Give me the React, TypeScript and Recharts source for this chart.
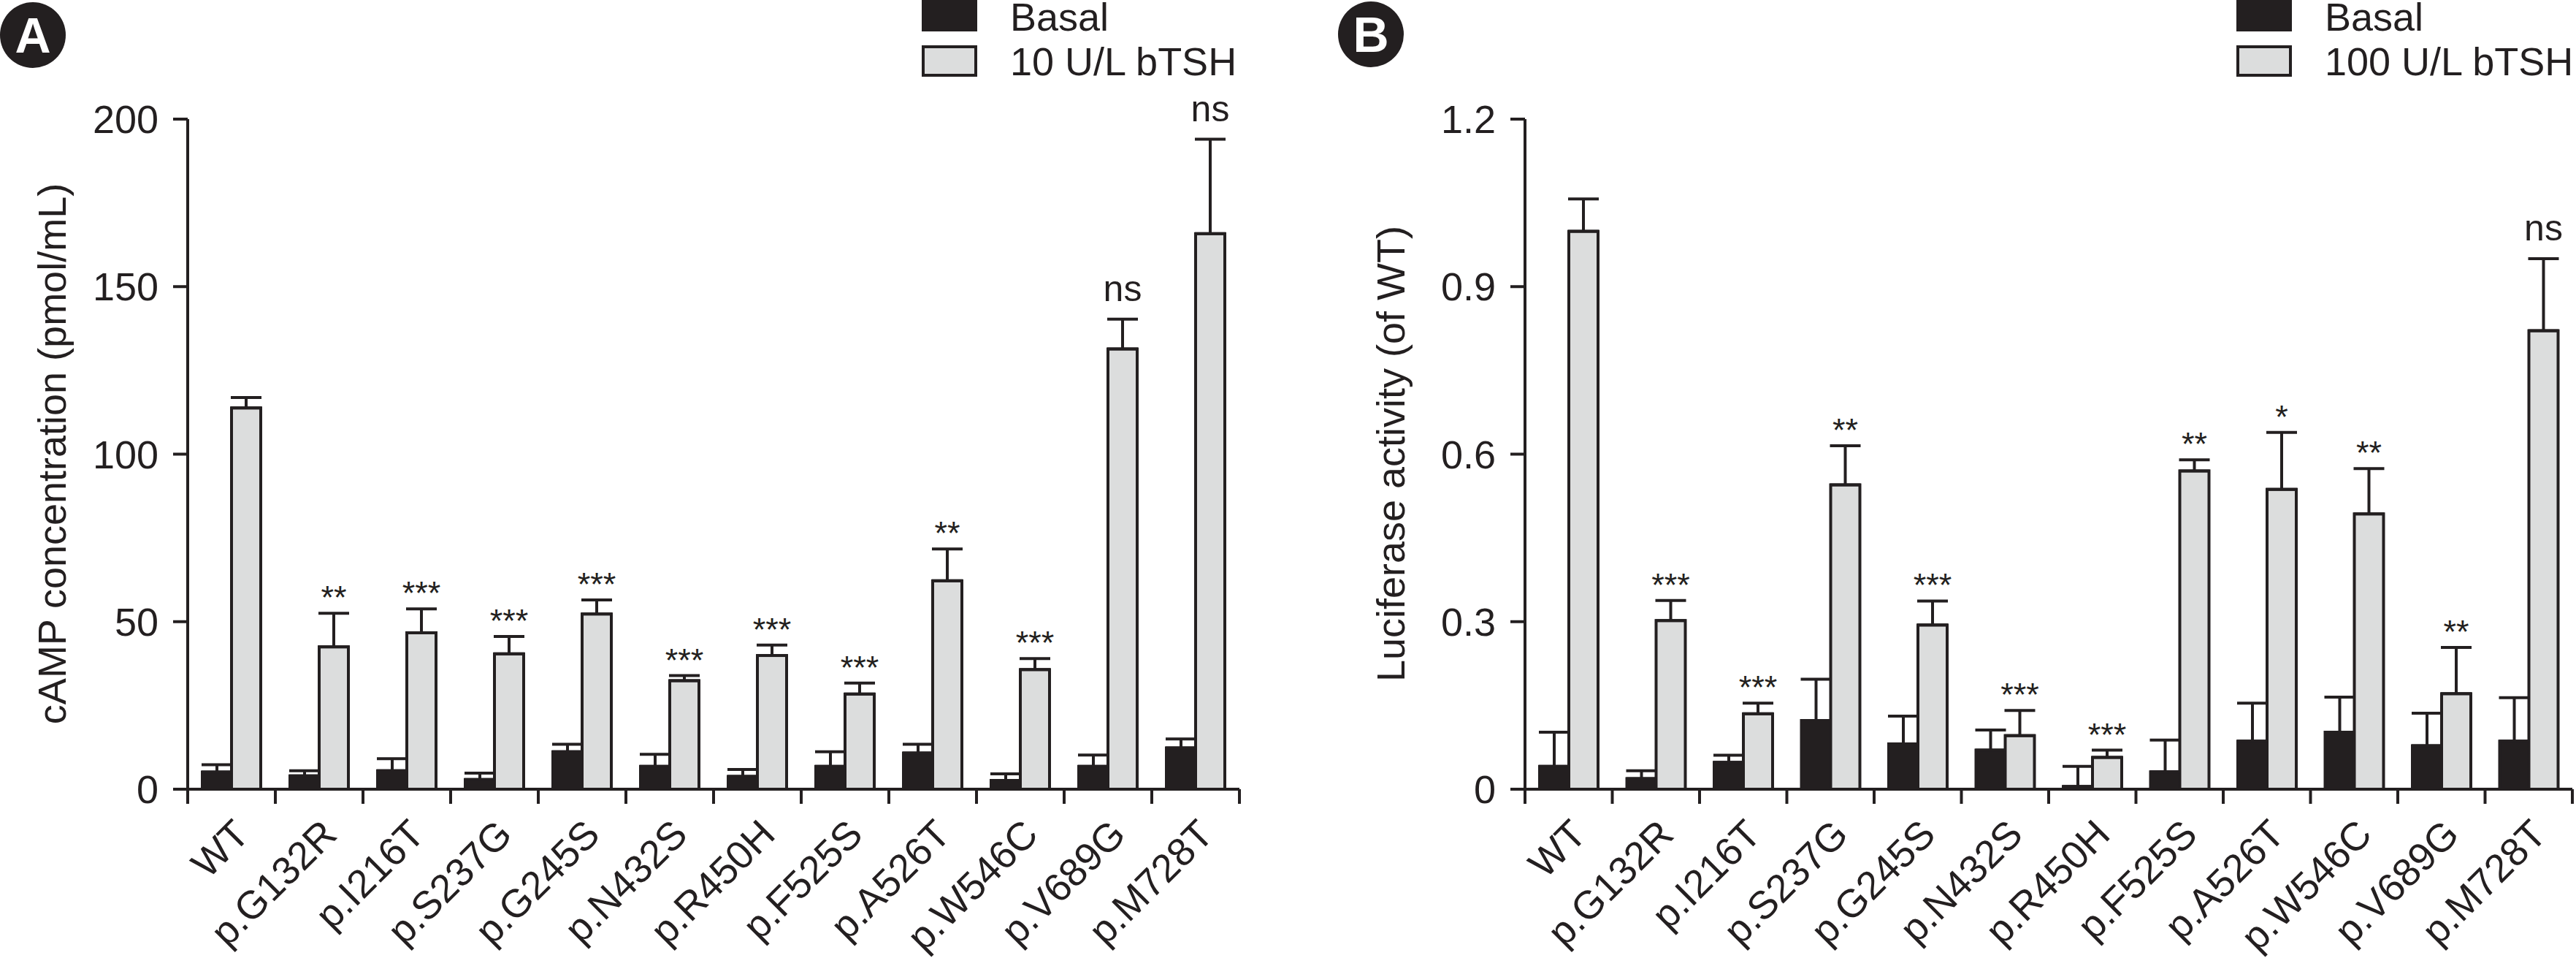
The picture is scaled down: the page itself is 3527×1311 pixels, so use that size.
import React from "react";
import { BarChart, Bar, XAxis, YAxis, ErrorBar } from "recharts";

// variants on the x axis (same for both panels)
const variants = [
  "WT", "p.G132R", "p.I216T", "p.S237G", "p.G245S", "p.N432S",
  "p.R450H", "p.F525S", "p.A526T", "p.W546C", "p.V689G", "p.M728T",
];

// panel A: cAMP (pmol/mL)
const campBasal = [5.1, 4.0, 5.5, 2.9, 11.2, 6.8, 3.8, 6.8, 10.8, 2.6, 6.8, 12.3];
const campBasalErr = [2.2, 1.5, 3.6, 1.9, 2.2, 3.6, 2.1, 4.4, 2.6, 2.0, 3.4, 2.7];
const campTsh = [113.8, 42.5, 46.7, 40.4, 52.3, 32.4, 39.9, 28.4, 62.2, 35.7, 131.4, 165.8];
const campTshErr = [3.1, 10.0, 7.1, 5.2, 4.2, 1.5, 3.1, 3.3, 9.5, 3.3, 8.9, 28.2];
const campSig = ["", "**", "***", "***", "***", "***", "***", "***", "**", "***", "ns", "ns"];
const campTicks = [0, 50, 100, 150, 200];

// panel B: luciferase activity (of WT)
const lucBasal = [0.041, 0.019, 0.048, 0.123, 0.081, 0.07, 0.005, 0.031, 0.086, 0.102, 0.078, 0.086];
const lucBasalErr = [0.061, 0.014, 0.013, 0.074, 0.05, 0.036, 0.036, 0.057, 0.068, 0.063, 0.058, 0.078];
const lucTsh = [0.999, 0.302, 0.135, 0.545, 0.294, 0.096, 0.057, 0.57, 0.537, 0.493, 0.171, 0.821];
const lucTshErr = [0.058, 0.036, 0.019, 0.07, 0.043, 0.045, 0.013, 0.02, 0.102, 0.081, 0.083, 0.129];
const lucSig = ["", "***", "***", "**", "***", "***", "***", "**", "*", "**", "**", "ns"];
const lucTicks = [0, 0.3, 0.6, 0.9, 1.2];

const INK = "#231f20";
const GREY = "#dcdddd";
const FONT = "'Liberation Sans', Arial, Helvetica, sans-serif";

const buildRows = (basal: number[], basalErr: number[], tsh: number[], tshErr: number[], sig: string[]) =>
  variants.map((name, i) => ({
    name,
    basal: basal[i],
    basalErr: [0, basalErr[i]],
    tsh: tsh[i],
    tshErrVal: tshErr[i],
    tshErr: [0, tshErr[i]],
    sig: sig[i],
  }));

const campRows = buildRows(campBasal, campBasalErr, campTsh, campTshErr, campSig);
const lucRows = buildRows(lucBasal, lucBasalErr, lucTsh, lucTshErr, lucSig);

// category tick: boundary tick marks + rotated label
const CategoryTick = (props: any) => {
  const { x, y, payload, index, visibleTicksCount } = props;
  const half = payload && payload.offset ? payload.offset : 60;
  const tx = x + 27;
  const ty = y + 65;
  return (
    <g>
      <line x1={x - half} x2={x - half} y1={y} y2={y + 20} stroke={INK} strokeWidth={4} />
      {index === visibleTicksCount - 1 && (
        <line x1={x + half} x2={x + half} y1={y} y2={y + 20} stroke={INK} strokeWidth={4} />
      )}
      <text x={tx} y={ty} transform={`rotate(-45 ${tx} ${ty})`} textAnchor="end" fontSize={54} fill={INK} fontFamily={FONT}>
        {payload.value}
      </text>
    </g>
  );
};

// stimulated bar with its significance mark above the error bar
const TshBar = (props: any) => {
  const { x, y, width, height, payload, fill, stroke } = props;
  const perUnit = payload.tsh > 0 ? height / payload.tsh : 0;
  const errTop = y - payload.tshErrVal * perUnit;
  const isNs = payload.sig === "ns";
  return (
    <g>
      <rect x={x} y={y} width={width} height={height} fill={fill} stroke={stroke} strokeWidth={4} />
      {payload.sig && (
        <text
          x={x + width / 2}
          y={isNs ? errTop - 25 : errTop - 6}
          textAnchor="middle"
          fontSize={isNs ? 50 : 45}
          fill={INK}
          fontFamily={FONT}
        >
          {payload.sig}
        </text>
      )}
    </g>
  );
};

type PanelProps = {
  rows: any[];
  ticks: number[];
  fmt: (v: number) => string;
  width: number;
  marginLeft: number;
  marginRight: number;
};

const Panel = ({ rows, ticks, fmt, width, marginLeft, marginRight }: PanelProps) => (
  <BarChart
    width={width}
    height={1311}
    data={rows}
    margin={{ top: 163, right: marginRight, bottom: 31, left: marginLeft }}
    barCategoryGap={20}
    barGap={0}
  >
    <XAxis
      dataKey="name"
      interval={0}
      height={200}
      tickLine={false}
      tickSize={0}
      tickMargin={0}
      axisLine={{ stroke: INK, strokeWidth: 4 }}
      tick={<CategoryTick />}
    />
    <YAxis
      width={160}
      domain={[ticks[0], ticks[ticks.length - 1]]}
      ticks={ticks}
      interval={0}
      tickFormatter={fmt}
      tickSize={20}
      tickMargin={20}
      axisLine={{ stroke: INK, strokeWidth: 4 }}
      tickLine={{ stroke: INK, strokeWidth: 4 }}
      tick={{ fontSize: 54, fill: INK, fontFamily: FONT }}
    />
    <Bar dataKey="basal" fill={INK} stroke={INK} strokeWidth={4} isAnimationActive={false}>
      <ErrorBar dataKey="basalErr" direction="y" width={21} stroke={INK} strokeWidth={4} isAnimationActive={false} />
    </Bar>
    <Bar dataKey="tsh" fill={GREY} stroke={INK} strokeWidth={4} shape={<TshBar />} isAnimationActive={false}>
      <ErrorBar dataKey="tshErr" direction="y" width={21} stroke={INK} strokeWidth={4} isAnimationActive={false} />
    </Bar>
  </BarChart>
);

const Legend = ({ x, label }: { x: number; label: string }) => (
  <g fontFamily={FONT} fontSize={54} fill={INK}>
    <rect x={x} y={0} width={76} height={43} fill={INK} />
    <rect x={x + 2} y={64} width={72} height={39} fill={GREY} stroke={INK} strokeWidth={4} />
    <text x={x + 121} y={42}>Basal</text>
    <text x={x + 121} y={103}>{label}</text>
  </g>
);

const Badge = ({ cx, cy, letter }: { cx: number; cy: number; letter: string }) => (
  <g>
    <circle cx={cx} cy={cy} r={45} fill={INK} />
    <text x={cx} y={cy + 24} textAnchor="middle" fontSize={68} fontWeight="bold" fill="#fff" fontFamily={FONT}>
      {letter}
    </text>
  </g>
);

export default function App() {
  return (
    <div style={{ position: "absolute", left: 0, top: 0, width: 3527, height: 1311, background: "#fff", fontFamily: FONT }}>
      <div style={{ position: "absolute", left: 0, top: 0 }}>
        <Panel rows={campRows} ticks={campTicks} fmt={(v) => String(v)} width={1760} marginLeft={97} marginRight={63} />
      </div>
      <div style={{ position: "absolute", left: 1760, top: 0 }}>
        <Panel
          rows={lucRows}
          ticks={lucTicks}
          fmt={(v) => (v === 0 ? "0" : v.toFixed(1))}
          width={1767}
          marginLeft={168}
          marginRight={5}
        />
      </div>
      <svg width={3527} height={1311} style={{ position: "absolute", left: 0, top: 0, pointerEvents: "none" }}>
        <Badge cx={45} cy={48} letter="A" />
        <Badge cx={1877} cy={47} letter="B" />
        <Legend x={1262} label="10 U/L bTSH" />
        <Legend x={3062} label="100 U/L bTSH" />
        <text x={90} y={621} transform="rotate(-90 90 621)" textAnchor="middle" fontSize={54} fill={INK} fontFamily={FONT}>
          cAMP concentration (pmol/mL)
        </text>
        <text x={1923} y={621} transform="rotate(-90 1923 621)" textAnchor="middle" fontSize={54} fill={INK} fontFamily={FONT}>
          Luciferase activity (of WT)
        </text>
      </svg>
    </div>
  );
}
